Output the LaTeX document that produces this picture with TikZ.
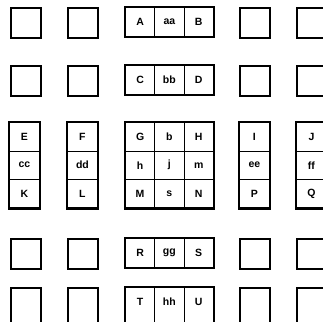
\documentclass[tikz,border=0pt]{standalone}
\usepackage{fontspec}
\setmainfont{Liberation Sans}
\begin{document}
\begin{tikzpicture}[x=1pt,y=-1pt,
  cell/.style={draw, line width=0.9pt, inner sep=0pt, anchor=north west,
    minimum width=29.3pt, minimum height=29pt,
    font=\bfseries\fontsize{10.5}{10.5}\selectfont},
  tcell/.style={cell, minimum width=30pt, minimum height=28.5pt},
  ccell/.style={cell, minimum height=28.5pt},
  bcell/.style={cell, minimum height=45pt, text depth=16pt},
  box/.style={draw, line width=2.4pt, inner sep=0pt, anchor=north west,
    minimum width=30pt, minimum height=30pt},
  frame/.style={line width=2.4pt}]
\useasboundingbox (0,0) rectangle (323,321);
\clip (0,0) rectangle (323,321);
% empty squares
\foreach \c/\x in {1/10,2/67,4/239,5/296}{
  \foreach \r/\y in {1/7,2/65,4/238}{
    \node[box] (e\r\c) at (\x,\y) {};
  }
  \node[box, minimum height=45pt] (e5\c) at (\x,287) {};
}
% horizontal triples
\foreach \r/\y/\p/\q/\s in {1/7/A/aa/B, 2/65/C/bb/D, 4/238/R/gg/S}{
  \node[cell] (h\r a) at (125,\y) {\p};
  \node[cell] (h\r b) at (154.3,\y) {\q};
  \node[cell] (h\r c) at (183.6,\y) {\s};
  \draw[frame] (h\r a.north west) rectangle (h\r c.south east);
}
% bottom triple, cut off by the lower edge
\node[bcell] (h5a) at (125,287) {T};
\node[bcell] (h5b) at (154.3,287) {hh};
\node[bcell] (h5c) at (183.6,287) {U};
\draw[frame] (h5a.north west) rectangle (h5c.south east);
% vertical triples
\foreach \c/\x/\p/\q/\s in {1/9/E/cc/K, 2/67/F/dd/L, 4/239/I/ee/P, 5/296/J/ff/Q}{
  \node[tcell] (v\c a) at (\x,122) {\p};
  \node[tcell] (v\c b) at (\x,150.5) {\q};
  \node[tcell] (v\c c) at (\x,179) {\s};
  \draw[frame] (v\c a.north west) rectangle (v\c c.south east);
}
% centre 3x3
\node[ccell] (g11) at (125,122) {G};
\node[ccell] (g12) at (154.3,122) {b};
\node[ccell] (g13) at (183.6,122) {H};
\node[ccell] (g21) at (125,150.5) {h};
\node[ccell] (g22) at (154.3,150.5) {j};
\node[ccell] (g23) at (183.6,150.5) {m};
\node[ccell] (g31) at (125,179) {M};
\node[ccell] (g32) at (154.3,179) {s};
\node[ccell] (g33) at (183.6,179) {N};
\draw[frame] (g11.north west) rectangle (g33.south east);
\end{tikzpicture}
\end{document}
